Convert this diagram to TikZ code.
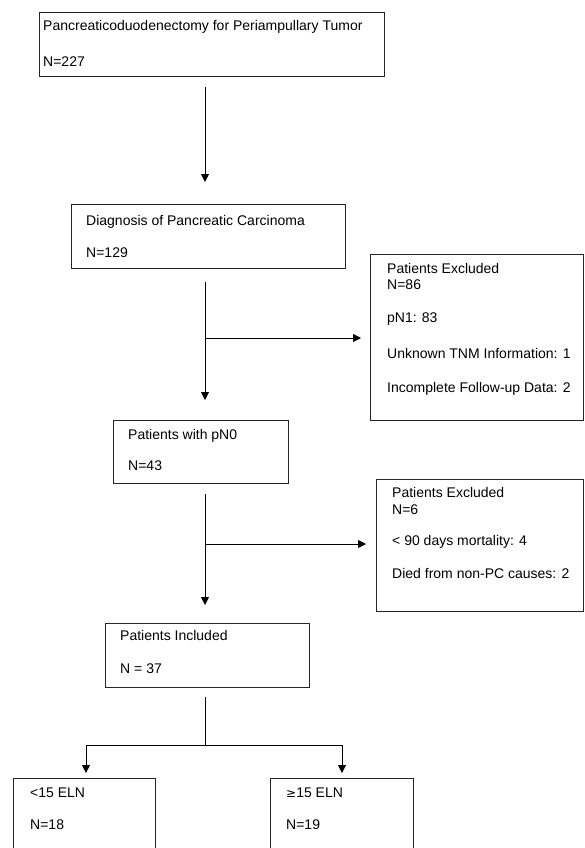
\documentclass[tikz,border=0pt]{standalone}
\usepackage{fontspec}
\setmainfont{Liberation Sans}
\newfontfamily\symfont{DejaVu Sans}
\usetikzlibrary{arrows.meta}
\tikzset{
  box/.style={draw=black!85, line width=0.9pt, inner sep=0pt, anchor=north west},
  txt/.style={anchor=base west, inner sep=0pt, font=\fontsize{14}{16}\selectfont},
  conn/.style={draw=black, line width=0.9pt},
  arr/.style={conn, -{Triangle[width=8pt,length=8pt]}}
}
\begin{document}
\begin{tikzpicture}[x=1pt,y=-1pt]
\useasboundingbox (0,0) rectangle (584,848);
\clip (0,0) rectangle (584,848);
\fill[white] (0,0) rectangle (584,848);
% boxes
\node[box, minimum width=345pt, minimum height=64pt] (b1) at (39,12) {};
\node[box, minimum width=274pt, minimum height=64pt] (b2) at (71,204) {};
\node[box, minimum width=213pt, minimum height=166pt] (e1) at (370,254) {};
\node[box, minimum width=175pt, minimum height=63pt] (b3) at (113,420) {};
\node[box, minimum width=207pt, minimum height=132pt] (e2) at (376,479) {};
\node[box, minimum width=204pt, minimum height=64pt] (b4) at (105,623) {};
\node[box, minimum width=142pt, minimum height=90pt] (b5) at (13,778) {};
\node[box, minimum width=143pt, minimum height=90pt] (b6) at (270,778) {};
% texts
\node[txt] (t1a) at (43,31) {Pancreaticoduodenectomy for Periampullary Tumor};
\node[txt] (t1b) at (43,67) {N=227};
\node[txt] (t2a) at (86,225) {Diagnosis of Pancreatic Carcinoma};
\node[txt] (t2b) at (86,257) {N=129};
\node[txt] (te1a) at (387,273) {Patients Excluded};
\node[txt] (te1b) at (387,289) {N=86};
\node[txt] (te1c) at (387,322) {pN1: 83};
\node[txt] (te1d) at (387,358) {Unknown TNM Information: 1};
\node[txt] (te1e) at (387,392) {Incomplete Follow-up Data: 2};
\node[txt] (t3a) at (128,439) {Patients with pN0};
\node[txt] (t3b) at (128,470) {N=43};
\node[txt] (te2a) at (392,497) {Patients Excluded};
\node[txt] (te2b) at (392,514) {N=6};
\node[txt] (te2c) at (392,545) {< 90 days mortality: 4};
\node[txt] (te2d) at (392,578) {Died from non-PC causes: 2};
\node[txt] (t4a) at (120,640) {Patients Included};
\node[txt] (t4b) at (120,673) {N = 37};
\node[txt] (t5a) at (30,797) {<15 ELN};
\node[txt] (t5b) at (30,829) {N=18};
\node[txt] (t6a) at (286,797) {{\symfont\fontsize{12}{14}\selectfont ≥}15 ELN};
\node[txt] (t6b) at (286,829) {N=19};
% connector coordinates
\coordinate (a1s) at (205,87);
\coordinate (a1e) at (205,182);
\coordinate (a2s) at (205,282);
\coordinate (a2j) at (205,338);
\coordinate (a2h) at (361,338);
\coordinate (a2e) at (205,400);
\coordinate (a3s) at (205,494);
\coordinate (a3j) at (205,544);
\coordinate (a3h) at (366,544);
\coordinate (a3e) at (205,605);
\coordinate (a4s) at (205,697);
\coordinate (a4j) at (205,745);
\coordinate (a4l) at (86,745);
\coordinate (a4r) at (342,745);
\coordinate (a4le) at (86,773);
\coordinate (a4re) at (342,773);
% connectors
\draw[arr] (a1s) -- (a1e);
\draw[arr] (a2s) -- (a2e);
\draw[arr] (a2j) -- (a2h);
\draw[arr] (a3s) -- (a3e);
\draw[arr] (a3j) -- (a3h);
\draw[conn] (a4s) -- (a4j);
\draw[arr] (a4j) -- (a4l) -- (a4le);
\draw[arr] (a4j) -- (a4r) -- (a4re);
\end{tikzpicture}
\end{document}
